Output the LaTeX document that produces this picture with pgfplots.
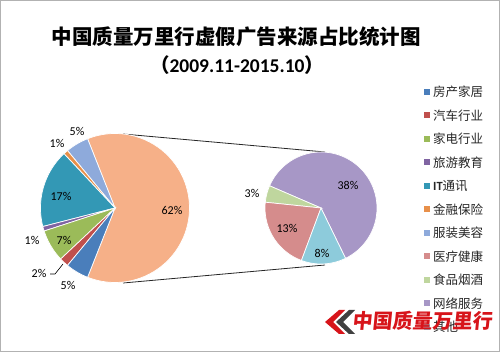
\documentclass[border=0pt]{standalone}
\usepackage{fontspec}
\setmainfont{Carlito}
\newfontfamily\cjk{Noto Sans CJK SC}
\usepackage{pgfplots}
\pgfplotsset{compat=1.18}
\usepgfplotslibrary{polar}
\definecolor{c1}{HTML}{4A7EBB}
\definecolor{c2}{HTML}{C0504D}
\definecolor{c3}{HTML}{9BBB59}
\definecolor{c4}{HTML}{8064A2}
\definecolor{c5}{HTML}{3398B5}
\definecolor{c6}{HTML}{E8904A}
\definecolor{c7}{HTML}{8EAADB}
\definecolor{c8}{HTML}{D58C8C}
\definecolor{c9}{HTML}{BFD69E}
\definecolor{c10}{HTML}{A797C6}
\definecolor{c11}{HTML}{8DCBDB}
\definecolor{c12}{HTML}{F6B088}
\definecolor{wm}{HTML}{D7141A}
% slice: colour, start angle, end angle (angle = cumulative share * 360)
\newcommand\pieslice[3]{\addplot[fill=#1, draw=white, line width=0.7pt, domain=#2:#3, samples=60] {1} -- (axis cs:0,0) -- cycle;}
\begin{document}
\begin{tikzpicture}[x=1pt,y=1pt]
\path (0,0) rectangle (500,352);
\draw[black!30, line width=1pt] (0.5,0.5) rectangle (499.5,351.5);
% titles
\node[font=\cjk\bfseries\fontsize{20.5}{24}\selectfont] at (236,315) {中国质量万里行虚假广告来源占比统计图};
\node[font=\bfseries\fontsize{19.5}{24}\selectfont] at (237,287) {{\cjk （}2009.11-2015.10{\cjk ）}};
% connector lines
\draw[black!85, line width=0.8pt] (123,218) -- (325,200);
\draw[black!85, line width=0.8pt] (123,69) -- (325,87);
% main pie: 62 (other), 5, 1, 17, 1, 7, 2, 5  (percent)
\begin{polaraxis}[at={(115pt,144pt)}, anchor=center, width=149pt, height=149pt,
  scale only axis, hide axis, xmin=0, xmax=360, ymin=0, ymax=1, clip=false]
\pieslice{c12}{-111.6}{111.6}
\pieslice{c7}{111.6}{129.6}
\pieslice{c6}{129.6}{133.2}
\pieslice{c5}{133.2}{194.4}
\pieslice{c4}{194.4}{198.0}
\pieslice{c3}{198.0}{223.2}
\pieslice{c2}{223.2}{230.4}
\pieslice{c1}{230.4}{248.4}
\end{polaraxis}
% secondary pie: 38, 3, 13, 8 of 62
\begin{polaraxis}[at={(321pt,144pt)}, anchor=center, width=112pt, height=112pt,
  scale only axis, hide axis, xmin=0, xmax=360, ymin=0, ymax=1, clip=false]
\pieslice{c10}{-64.0}{156.65}
\pieslice{c9}{156.65}{174.07}
\pieslice{c8}{174.07}{249.55}
\pieslice{c11}{249.55}{296.0}
\end{polaraxis}
% data labels
\begin{scope}[every node/.style={font=\fontsize{12}{14}\selectfont, text=black}]
\node at (172,142) {62\%};
\node at (61,156) {17\%};
\node at (64,112) {7\%};
\node at (32,112) {1\%};
\node at (39,79) {2\%};
\node at (68,67) {5\%};
\node at (57,209) {1\%};
\node at (77,221) {5\%};
\node at (348,167) {38\%};
\node at (287,124) {13\%};
\node at (322,99) {8\%};
\node at (252,159) {3\%};
\end{scope}
\draw[black, line width=0.6pt] (50,78) -- (55,78) -- (63,88);
% legend
\begin{scope}[every node/.style={font=\cjk\fontsize{12.5}{14}\selectfont, text=black!85, anchor=west, inner sep=0pt}]
\foreach \c/\t [count=\i from 0] in {c1/房产家居, c2/汽车行业, c3/家电行业, c4/旅游教育, c5/{{\normalfont\bfseries IT}通讯}, c6/金融保险, c7/服装美容, c8/医疗健康, c9/食品烟酒, c10/网络服务, c11/其他}{
  \fill[\c] (424,{260-23.5*\i-3}) rectangle ++(6,6);
  \node at (433,{260-23.5*\i}) {\t};
}
\end{scope}
% watermark
\fill[wm] (339,42) -- (325,30) -- (339,18) -- (345,18) -- (333,30) -- (345,42) -- cycle;
\fill[black!75] (349,42) -- (336,30) -- (349,18) -- (355,18) -- (343,30) -- (355,42) -- cycle;
\node[font=\cjk\bfseries\fontsize{20}{22}\selectfont, text=wm, xslant=0.1] at (423,31) {中国质量万里行};
\end{tikzpicture}
\end{document}
